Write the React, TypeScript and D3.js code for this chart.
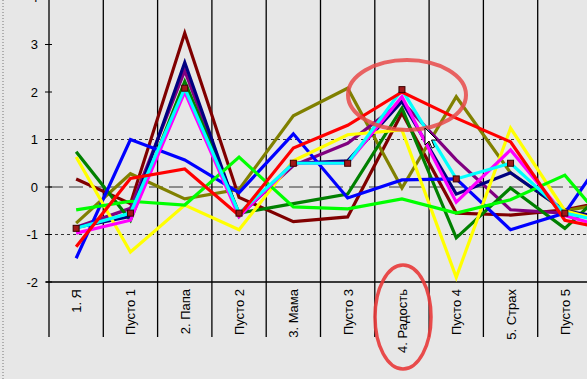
import React from "react";
import * as d3 from "d3";

const categories = ["1. Я", "Пусто 1", "2. Папа", "Пусто 2", "3. Мама", "Пусто 3", "4. Радость", "Пусто 4", "5. Страх", "Пусто 5", "6."];
const yTicks = [-2, -1, 0, 1, 2, 3, 4];

const maroon = [0.17, -0.35, 3.24, -0.22, -0.73, -0.63, 1.56, -0.55, -0.59, -0.48, -0.25];
const olive = [-0.76, 0.28, -0.25, -0.05, 1.5, 2.08, -0.02, 1.9, 0.3, -0.5, -0.3];
const purple = [-0.85, -0.45, 2.45, -0.6, 0.45, 0.92, 1.8, 0.57, -0.48, -0.55, -0.7];
const green = [0.74, -0.7, 2.22, -0.55, -0.35, -0.15, 1.66, -1.07, -0.02, -0.87, 0.19];
const navy = [-0.85, -0.62, 2.62, -0.62, 0.5, 0.55, 1.8, -0.15, 0.3, -0.5, -0.7];
const blue = [-1.5, 1.0, 0.57, -0.12, 1.12, -0.23, 0.15, 0.17, -0.9, -0.55, 1.1];
const yellow = [0.63, -1.37, -0.38, -0.9, 0.55, 1.1, 1.2, -1.9, 1.24, -0.5, -0.8];
const lime = [-0.48, -0.3, -0.38, 0.63, -0.42, -0.46, -0.25, -0.55, -0.27, 0.25, -1.1];
const magenta = [-0.97, -0.7, 2.0, -0.62, 0.5, 0.5, 1.9, -0.32, 0.78, -0.6, -0.93];
const cyan = [-0.87, -0.55, 2.08, -0.55, 0.5, 0.5, 2.05, 0.17, 0.5, -0.55, -0.8];
const red = [-1.26, 0.18, 0.38, -0.6, 0.82, 1.3, 2.0, 1.45, 0.95, -0.7, -0.94];

const series = [
  { name: "maroon", color: "#800000", values: maroon },
  { name: "olive", color: "#808000", values: olive },
  { name: "purple", color: "#800080", values: purple },
  { name: "green", color: "#008000", values: green },
  { name: "navy", color: "#000080", values: navy },
  { name: "blue", color: "#0000ff", values: blue },
  { name: "yellow", color: "#ffff00", values: yellow },
  { name: "lime", color: "#00ff00", values: lime },
  { name: "magenta", color: "#ff00ff", values: magenta },
  { name: "cyan", color: "#00ffff", values: cyan },
  { name: "red", color: "#ff0000", values: red },
];
const markerSeries = cyan;

export default function App() {
  const W = 587, H = 379;
  const left = 49;
  const step = 54.3;
  const x = d3.scaleBand<string>().domain(categories).range([left, left + step * categories.length]).padding(0);
  const cx = (c: string) => (x(c) as number) + x.bandwidth() / 2;
  const y = d3.scaleLinear().domain([-2, 4]).range([282, -3]);
  const line = d3.line<number>().x((_, i) => cx(categories[i])).y((v) => y(v));
  const bounds = categories.map((c) => x(c) as number);

  return (
    <div style={{ position: "absolute", left: 0, top: 0 }}>
      <svg width={W} height={H} style={{ display: "block", fontFamily: "'Liberation Sans', Arial, sans-serif" }}>
        <rect x={0} y={0} width={W} height={H} fill="#e7e7e7" />
        <line x1={3} x2={3} y1={0} y2={H} stroke="#777" strokeDasharray="1 2" />
        <line x1={left} x2={W} y1={y(1)} y2={y(1)} stroke="#333" strokeDasharray="3 3" />
        <line x1={left} x2={W} y1={y(-1)} y2={y(-1)} stroke="#333" strokeDasharray="3 3" />
        <line x1={left} x2={W} y1={y(0)} y2={y(0)} stroke="#333" strokeDasharray="14 6" />
        {bounds.map((b, i) => (
          <line key={i} x1={b} x2={b} y1={0} y2={337} stroke="#000" strokeWidth={1.3} />
        ))}
        <line x1={left - 3} x2={W} y1={y(-2)} y2={y(-2)} stroke="#000" strokeWidth={1.3} />
        {yTicks.map((t) => (
          <g key={t}>
            <line x1={left - 4} x2={left + 3} y1={y(t)} y2={y(t)} stroke="#000" />
            <text x={38} y={y(t)} dy="0.36em" textAnchor="end" fontSize={13} fill="#000">{t}</text>
          </g>
        ))}
        {categories.filter((c) => cx(c) < W).map((c) => (
          <text key={c} transform={`translate(${cx(c) + 5},289) rotate(-90)`} textAnchor="end" fontSize={13} fill="#000">{c}</text>
        ))}
        {series.map((s) => (
          <path key={s.name} d={line(s.values) || ""} fill="none" stroke={s.color} strokeWidth={3.2} strokeLinejoin="miter" />
        ))}
        {markerSeries.map((v, i) => (
          <rect key={i} x={cx(categories[i]) - 3} y={y(v) - 3} width={6} height={6} fill="#a01818" stroke="#3a0000" strokeWidth={1} />
        ))}
        <ellipse cx={407} cy={95} rx={59} ry={35} fill="none" stroke="#e84a4a" strokeOpacity={0.85} strokeWidth={4} />
        <ellipse cx={403} cy={317} rx={28} ry={52} fill="none" stroke="#e83a3a" strokeOpacity={0.9} strokeWidth={3.5} />
        <path d="M425,128 L425,145 L429,141 L432,148 L434.5,147 L431.5,140 L437,140 Z" fill="#fff" stroke="#000" strokeWidth={1} />
      </svg>
    </div>
  );
}
